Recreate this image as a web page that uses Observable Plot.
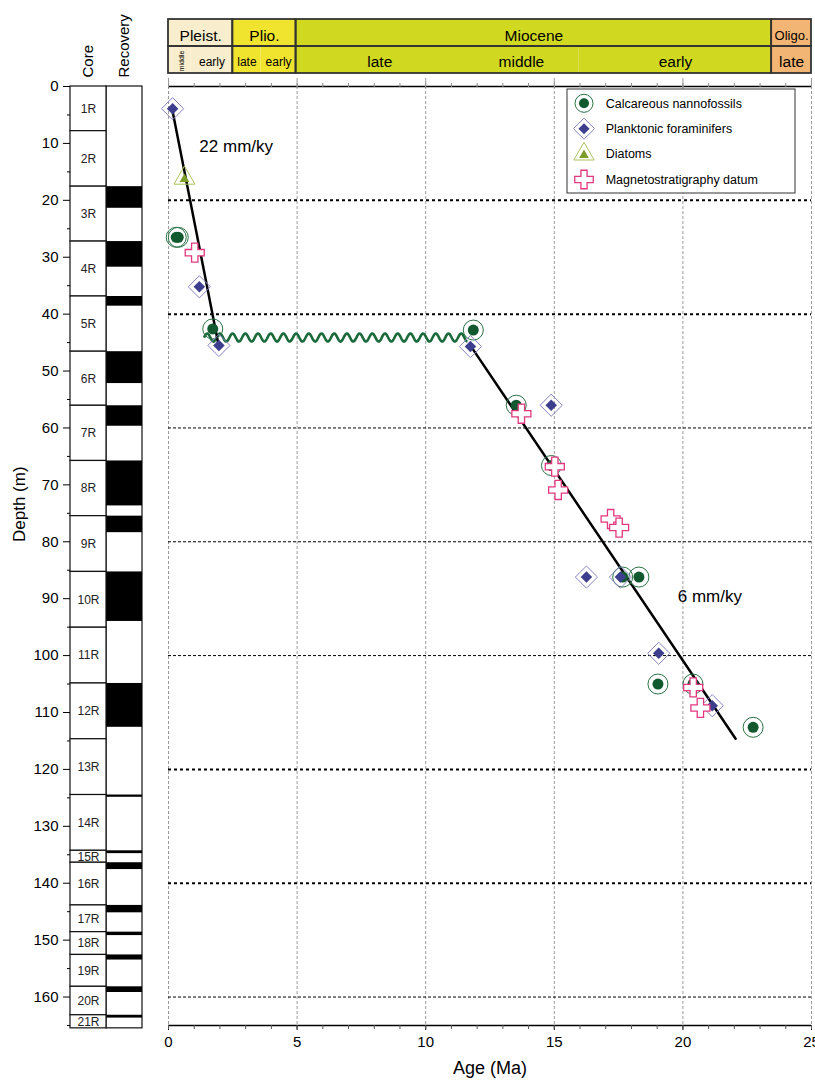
<!DOCTYPE html>
<html>
<head>
<meta charset="utf-8">
<script src="https://cdn.jsdelivr.net/npm/d3@7"></script>
<script src="https://cdn.jsdelivr.net/npm/@observablehq/plot@0.6"></script>
<style>
  body { margin: 0; background: #fff; }
  #wrap { position: relative; width: 815px; height: 1082px; overflow: hidden; }
  #wrap > svg { position: absolute; left: 0; top: 0; }
</style>
</head>
<body>
<div id="wrap"></div>
<script>
// ---------------- DATA ----------------
// Cores
const cores = ["1R","2R","3R","4R","5R","6R","7R","8R","9R","10R","11R","12R","13R","14R","15R","16R","17R","18R","19R","20R","21R"];
const coreTop    = [0, 7.85, 17.6, 27.25, 36.9, 46.6, 56.1, 65.8, 75.5, 85.3, 95.1, 104.9, 114.7, 124.5, 134.3, 136.4, 143.9, 148.6, 152.6, 158.2, 163.2];
const coreBottom = [7.85, 17.6, 27.25, 36.9, 46.6, 56.1, 65.8, 75.5, 85.3, 95.1, 104.9, 114.7, 124.5, 134.3, 136.4, 143.9, 148.6, 152.6, 158.2, 163.2, 165.5];
const recovered  = [0, 0, 3.8, 4.5, 1.7, 5.6, 3.6, 7.9, 2.9, 8.7, 0, 7.7, 0, 0.4, 0.5, 1.2, 1.3, 0.6, 0.9, 1.0, 0.5];
const columns = ["Core", "Recovery"];

// Timescale
const epochNames  = ["Pleist.", "Plio.", "Miocene", "Oligo."];
const epochStart  = [0, 2.5, 4.96, 23.45];
const epochEnd    = [2.5, 4.96, 23.45, 25];
const epochColors = ["#f8eecd", "#f1e42e", "#d0d820", "#f3b573"];
const subNames = ["", "middle", "early", "late", "early", "late", "middle", "early", "late"];
const subStart = [0, 0.14, 0.88, 2.5, 3.6, 4.96, 11.47, 15.97, 23.45];
const subEnd   = [0.14, 0.88, 2.5, 3.6, 4.96, 11.47, 15.97, 23.45, 25];
const subEpoch = ["Pleist.", "Pleist.", "Pleist.", "Plio.", "Plio.", "Miocene", "Miocene", "Miocene", "Oligo."];

// Axes
const ageTicks = [0, 5, 10, 15, 20, 25];
const ageMinorTicks = [0,1,2,3,4,5,6,7,8,9,10,11,12,13,14,15,16,17,18,19,20,21,22,23,24,25];
const depthTicks = [0,10,20,30,40,50,60,70,80,90,100,110,120,130,140,150,160];
const depthMinorTicks = [5,15,25,35,45,55,65,75,85,95,105,115,125,135,145,155,165];
const depthDomain = [0, 165];
const ageDomain = [0, 25];
const boldDepthLines = [20, 40, 120, 140];
const thinDepthLines = [60, 80, 100, 160];

// Datums
const nannoAge   = [0.3, 0.38, 1.72, 11.85, 13.52, 14.89, 17.66, 18.29, 19.03, 20.39, 22.73];
const nannoDepth = [26.5, 26.5, 42.6, 42.8, 56.0, 66.6, 86.2, 86.2, 105.0, 105.0, 112.6];
const foramAge   = [0.16, 1.2, 1.96, 11.74, 14.88, 16.25, 17.57, 19.06, 21.14];
const foramDepth = [3.9, 35.2, 45.5, 45.7, 56.0, 86.2, 86.2, 99.6, 108.8];
const diatomAge   = [0.62];
const diatomDepth = [16.1];
const magAge   = [1.02, 13.72, 15.02, 15.15, 17.19, 17.52, 20.4, 20.68];
const magDepth = [29.2, 57.5, 66.8, 70.9, 76.0, 77.5, 105.6, 109.2];

// Sedimentation-rate lines
const rateLabels = ["22 mm/ky", "6 mm/ky"];
const rateAge    = [[0.14, 1.95], [11.78, 22.05]];
const rateDepth  = [[3.9, 45.5], [45.8, 114.6]];
const rateLabelAge   = [1.2, 19.8];
const rateLabelDepth = [10.5, 89.6];

// Hiatus
const hiatusAge = [1.4, 11.65];
const hiatusDepth = [44.2];

const legendNames = ["Calcareous nannofossils", "Planktonic foraminifers", "Diatoms", "Magnetostratigraphy datum"];

// ---------------- STYLE ----------------
const FONT = "'Liberation Sans', Arial, Helvetica, sans-serif";
const C = {
  nanno: "#12592f", nannoRing: "#2a7346",
  foram: "#3d3f8e", foramRing: "#8683c2",
  diatom: "#7d9c2a", diatomRing: "#aac25a",
  mag: "#e2387f", wave: "#1b6a3c", grid: "#9c9c9c"
};
const W = 815, H = 1082;
const ML = 168, MR = 4, MT = 86, MB = 57;
const baseStyle = { fontFamily: FONT, background: "transparent", overflow: "visible", color: "black" };

// ---------------- TABLES ----------------
const coreTable = cores.map((name, i) => ({ name, top: coreTop[i], bottom: coreBottom[i], recBottom: coreTop[i] + recovered[i], rec: recovered[i] }));
const epochTable = epochNames.map((name, i) => ({ name, start: epochStart[i], end: epochEnd[i], color: epochColors[i] }));
const epochColor = Object.fromEntries(epochNames.map((n, i) => [n, epochColors[i]]));
const subTable = subNames.map((name, i) => ({ name, start: subStart[i], end: subEnd[i], epoch: subEpoch[i], color: epochColor[subEpoch[i]] }));
const subDividers = subTable.filter((d, i) => i > 0 && d.epoch === subTable[i - 1].epoch).map(d => d.start);
const pts = (a, b) => a.map((x, i) => ({ age: x, depth: b[i] }));
const nanno = pts(nannoAge, nannoDepth);
const foram = pts(foramAge, foramDepth);
const diatom = pts(diatomAge, diatomDepth);
const mag = pts(magAge, magDepth);
const rateLines = rateLabels.map((label, i) => rateAge[i].map((a, j) => ({ label, age: a, depth: rateDepth[i][j] })));
const rateText = rateLabels.map((label, i) => ({ label, age: rateLabelAge[i], depth: rateLabelDepth[i] }));

const symArea = r => Math.PI * r * r;

// ---------------- CUSTOM MARKS ----------------
function hiatusWave(index, scales) {
  const x1 = scales.x(hiatusAge[0]), x2 = scales.x(hiatusAge[1]), y0 = scales.y(hiatusDepth[0]);
  const period = 12.7, amp = 4;
  const p = d3.range(x1, x2 + 0.01, 0.5).map(px => [px, y0 - amp * Math.sin(2 * Math.PI * (px - x1) / period)]);
  return d3.create("svg:path").attr("d", d3.line()(p)).attr("fill", "none")
    .attr("stroke", C.wave).attr("stroke-width", 2.6).node();
}

function legend(index, scales, values, dim) {
  const right = dim.width - dim.marginRight;
  const bx = right - 244, by = dim.marginTop + 3;
  const g = d3.create("svg:g").attr("font-family", FONT).attr("font-size", 12.5).attr("fill", "black").attr("text-anchor", "start");
  g.append("rect").attr("x", bx).attr("y", by).attr("width", 228).attr("height", 104)
    .attr("fill", "white").attr("stroke", "#333").attr("stroke-width", 1);
  legendNames.forEach((name, i) => {
    const cx = bx + 17, cy = by + 14.3 + i * 25.4;
    const row = g.append("g").attr("transform", `translate(${cx},${cy})`);
    if (i === 0) {
      row.append("circle").attr("r", 9).attr("fill", "white").attr("stroke", C.nannoRing).attr("stroke-width", 1);
      row.append("circle").attr("r", 5).attr("fill", C.nanno);
    } else if (i === 1) {
      row.append("path").attr("d", d3.symbol(d3.symbolDiamond2, symArea(9.5))()).attr("fill", "white").attr("stroke", C.foramRing).attr("stroke-width", 1);
      row.append("path").attr("d", d3.symbol(d3.symbolDiamond2, symArea(5))()).attr("fill", C.foram);
    } else if (i === 2) {
      row.append("path").attr("d", d3.symbol(d3.symbolTriangle, symArea(7.6))()).attr("fill", "white").attr("stroke", C.diatomRing).attr("stroke-width", 1);
      row.append("path").attr("d", d3.symbol(d3.symbolTriangle, symArea(3.6))()).attr("transform", "translate(0,1)").attr("fill", C.diatom);
    } else {
      row.append("path").attr("d", d3.symbol(d3.symbolCross, symArea(7.8))()).attr("fill", "white").attr("stroke", C.mag).attr("stroke-width", 1.3);
    }
    g.append("text").attr("x", bx + 38.7).attr("y", cy).attr("dy", "0.35em").attr("text-anchor", "start").text(name);
  });
  return g.node();
}

// ---------------- MAIN PLOT ----------------
const main = Plot.plot({
  width: W, height: H,
  marginLeft: ML, marginRight: MR, marginTop: MT, marginBottom: MB,
  style: baseStyle,
  x: { domain: ageDomain },
  y: { domain: depthDomain, reverse: true, axis: null },
  marks: [
    Plot.ruleX(ageTicks, { stroke: C.grid, strokeDasharray: "3,2", strokeWidth: 1 }),
    Plot.ruleY(boldDepthLines, { stroke: "black", strokeWidth: 2, strokeDasharray: "3,3" }),
    Plot.ruleY(thinDepthLines, { stroke: "black", strokeWidth: 1, strokeDasharray: "3,2" }),
    Plot.ruleY(depthDomain, { stroke: "black", strokeWidth: 1.5 }),
    // bottom axis
    Plot.axisX({ anchor: "bottom", ticks: ageTicks, tickSize: 5, tickPadding: 6, fontSize: 15, label: null }),
    Plot.axisX({ anchor: "bottom", ticks: ageMinorTicks, tickSize: 4, tickFormat: () => "", label: null, stroke: "#555" }),
    Plot.text(["Age (Ma)"], { frameAnchor: "bottom", dy: 48, fontSize: 18 }),
    // top axis
    Plot.axisX({ anchor: "top", ticks: ageMinorTicks, tickSize: 4, tickFormat: () => "", label: null, stroke: "#888" }),
    Plot.axisX({ anchor: "top", ticks: ageTicks, tickSize: 9, tickFormat: () => "", label: null, stroke: "#999" }),
    // hiatus and rate lines
    hiatusWave,
    ...rateLines.map(l => Plot.line(l, { x: "age", y: "depth", stroke: "black", strokeWidth: 2.5 })),
    Plot.text(rateText, { x: "age", y: "depth", text: "label", textAnchor: "start", fontSize: 17 }),
    // datums
    Plot.dot(nanno, { x: "age", y: "depth", r: 10, fill: "none", stroke: C.nannoRing, strokeWidth: 1 }),
    Plot.dot(nanno, { x: "age", y: "depth", r: 5.5, fill: C.nanno }),
    Plot.dot(foram, { x: "age", y: "depth", symbol: "diamond2", r: 10, fill: "none", stroke: C.foramRing, strokeWidth: 1 }),
    Plot.dot(foram, { x: "age", y: "depth", symbol: "diamond2", r: 5.2, fill: C.foram }),
    Plot.dot(diatom, { x: "age", y: "depth", symbol: "triangle", r: 7.8, fill: "none", stroke: C.diatomRing, strokeWidth: 1 }),
    Plot.dot(diatom, { x: "age", y: "depth", symbol: "triangle", r: 3.6, fill: C.diatom, dy: 1 }),
    Plot.dot(mag, { x: "age", y: "depth", symbol: "cross", r: 8, fill: "white", stroke: C.mag, strokeWidth: 1.3 }),
    legend
  ]
});

// ---------------- TIMESCALE ----------------
const timescale = Plot.plot({
  width: W, height: MT,
  marginLeft: ML, marginRight: MR, marginTop: 18, marginBottom: 13,
  style: baseStyle,
  x: { domain: ageDomain, axis: null },
  y: { domain: ["epoch", "sub"], type: "band", padding: 0, axis: null },
  marks: [
    Plot.barX(subTable, { x1: "start", x2: "end", y: () => "sub", fill: "color", inset: 0 }),
    Plot.barX(epochTable, { x1: "start", x2: "end", y: () => "epoch", fill: "color", inset: 0 }),
    Plot.ruleX(subDividers, { y: () => "sub", stroke: "#333", strokeWidth: 1.6, strokeDasharray: "3,2" }),
    Plot.barX(epochTable, { x1: "start", x2: "end", y: () => "epoch", fill: "none", stroke: "#333", strokeWidth: 1.8, inset: 0 }),
    Plot.barX(epochTable, { x1: "start", x2: "end", y: () => "sub", fill: "none", stroke: "#333", strokeWidth: 1.8, inset: 0 }),
    Plot.text(epochTable.filter(d => d.name !== "Oligo."), { x: d => (d.start + d.end) / 2, y: () => "epoch", text: "name", fontSize: 15.5, dy: 3 }),
    Plot.text(epochTable.filter(d => d.name === "Oligo."), { x: d => (d.start + d.end) / 2, y: () => "epoch", text: "name", fontSize: 13, dy: 3 }),
    Plot.text(subTable.filter(d => d.epoch === "Miocene" || d.epoch === "Oligo."), { x: d => (d.start + d.end) / 2, y: () => "sub", text: "name", fontSize: 15.5, dy: 2.5 }),
    Plot.text(subTable.filter(d => (d.epoch === "Pleist." || d.epoch === "Plio.") && d.name !== "middle"), { x: d => (d.start + d.end) / 2, y: () => "sub", text: "name", fontSize: 12, dy: 2.5 }),
    Plot.text(subTable.filter(d => d.epoch === "Pleist." && d.name === "middle"), { x: d => (d.start + d.end) / 2, y: () => "sub", text: "name", fontSize: 7, rotate: -90, dy: 1 })
  ]
});

// ---------------- CORE COLUMN ----------------
const coreCol = Plot.plot({
  width: ML, height: H,
  marginLeft: 70, marginRight: 26, marginTop: MT, marginBottom: MB,
  style: baseStyle,
  x: { domain: columns, type: "band", padding: 0 },
  y: { domain: depthDomain, reverse: true },
  marks: [
    Plot.barY([columns[1]], { x: d => d, y1: coreTop[0], y2: coreBottom[coreBottom.length - 1], fill: "white", stroke: "#111", strokeWidth: 1.2, inset: 0 }),
    Plot.barY(coreTable.filter(d => d.rec > 0), { x: () => columns[1], y1: "top", y2: "recBottom", fill: "black", inset: 0 }),
    Plot.barY(coreTable, { x: () => columns[0], y1: "top", y2: "bottom", fill: "white", stroke: "#111", strokeWidth: 1.2, inset: 0 }),
    Plot.text(coreTable, { x: () => columns[0], y: d => (d.top + d.bottom) / 2, text: "name", fontSize: 12, fill: "#222" }),
    Plot.axisY({ anchor: "left", ticks: depthTicks, tickSize: 7, tickPadding: 5, fontSize: 15, label: null }),
    Plot.axisY({ anchor: "left", ticks: depthMinorTicks, tickSize: 3, tickFormat: () => "", label: null }),
    Plot.axisX({ anchor: "top", tickSize: 0, tickPadding: 9, tickRotate: -90, fontSize: 15, label: null }),
    Plot.text(["Depth (m)"], { frameAnchor: "left", rotate: -90, dx: -51, dy: -14, fontSize: 17 })
  ]
});

const wrap = document.getElementById("wrap");
wrap.appendChild(main);
wrap.appendChild(timescale);
wrap.appendChild(coreCol);
</script>
</body>
</html>
